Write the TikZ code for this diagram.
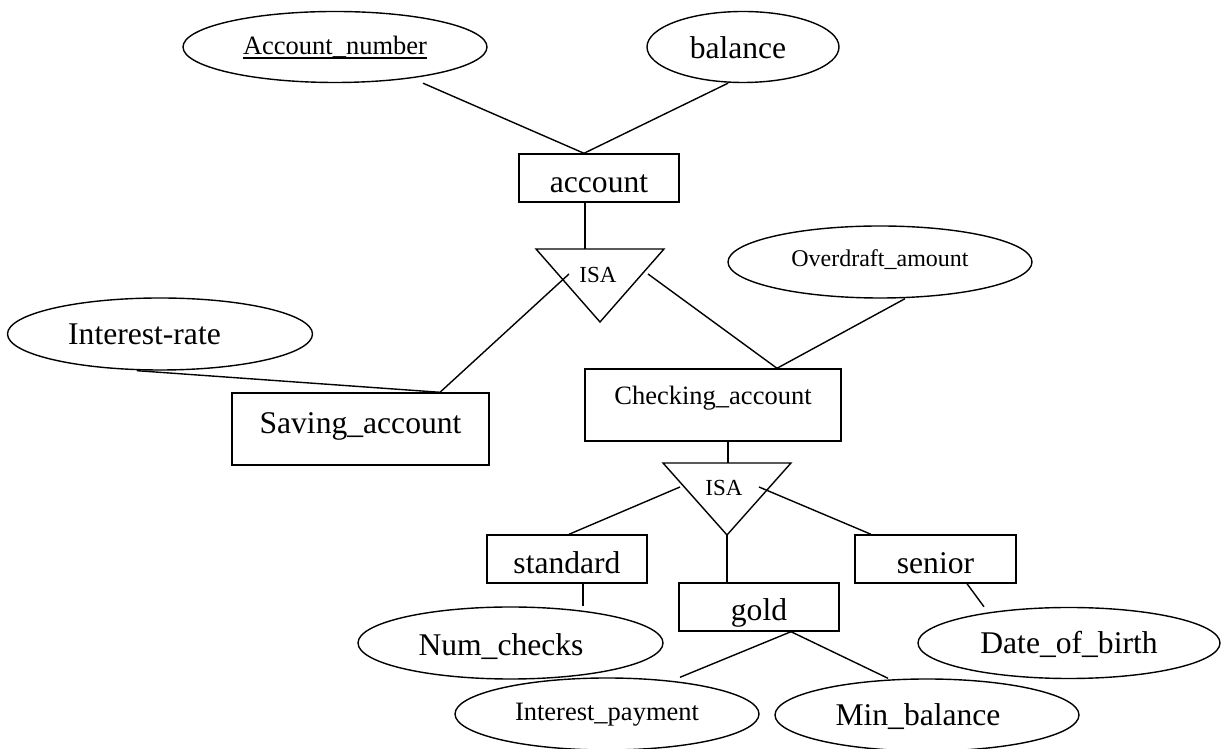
\documentclass[tikz,border=0pt]{standalone}
\usepackage{fontspec}
\setmainfont{Liberation Serif}
\usetikzlibrary{shapes.geometric}

% font sizes (1pt = 1 unit of the drawing)
\newcommand\bigf{\fontsize{31.6}{36}\selectfont}
\newcommand\midf{\fontsize{26.5}{30}\selectfont}
\newcommand\smf{\fontsize{24}{28}\selectfont}
\newcommand\isaf{\fontsize{23}{27}\selectfont}

% key attribute: text with a rule just below the baseline
\newsavebox\keybox
\newcommand\keyattr[1]{\sbox\keybox{#1}\rlap{\rule[-4pt]{\wd\keybox}{1.5pt}}\usebox\keybox}

\begin{document}
\begin{tikzpicture}[x=1pt,y=1pt,line width=1.4pt,
  ent/.style={draw,rectangle,inner sep=0pt},
  attr/.style={draw,ellipse,inner sep=0pt},
  box/.style 2 args={minimum width=#1pt,minimum height=#2pt},
  % baseline sits half of the given value below the shape centre
  bl/.style={text height=#1pt,text depth=0pt}]

  \fill[white] (0,0) rectangle (1221,749);
  \useasboundingbox (0,0) rectangle (1221,749);

  % attributes
  \node[attr,box={304}{71},bl=16,font=\midf] (an)  at (335,702) {\keyattr{Account\_number}};
  \node[attr,box={192}{71},bl=24,font=\bigf] (bal) at (743,702) {balance\kern10pt};
  \node[attr,box={305}{72},bl=22,font=\bigf] (ir)  at (160,415) {Interest-rate\kern31pt};
  \node[attr,box={304}{72},bl=10,font=\smf]  (od)  at (880,487) {Overdraft\_amount};
  \node[attr,box={305}{72},bl=26,font=\bigf] (nc)  at (510.5,106) {Num\_checks\kern19pt};
  \node[attr,box={302}{71},bl=22,font=\bigf] (dob) at (1069,106) {Date\_of\_birth};
  \node[attr,box={304}{72},bl=14,font=\midf] (ip)  at (607,35) {Interest\_payment};
  \node[attr,box={304}{72},bl=22,font=\bigf] (mb)  at (927,34) {Min\_balance\kern18pt};

  % entity sets
  \node[ent,box={160}{48},bl=30,font=\bigf] (acct) at (599,571) {account};
  \node[ent,box={257}{72},bl=10,font=\bigf] (sav)  at (360.5,320) {Saving\_account};
  \node[ent,box={256}{72},bl=0,font=\midf]  (chk)  at (713,344) {Checking\_account};
  \node[ent,box={160}{48},bl=30,font=\bigf] (std)  at (567,190) {standard};
  \node[ent,box={160}{48},bl=28,font=\bigf] (gold) at (759,142) {gold};
  \node[ent,box={161}{48},bl=30,font=\bigf] (sen)  at (935.5,190) {senior};

  % upper ISA triangle
  \coordinate (t1l) at (536,500);
  \coordinate (t1r) at (664,500);
  \coordinate (t1b) at (600,427);
  \draw (t1l) -- (t1r) -- (t1b) -- cycle;
  \node[font=\isaf,anchor=base,inner sep=0pt] (isa1) at (598,466) {ISA};
  \coordinate (t1top) at (585,500);
  \coordinate (t1sl) at (569,475);
  \coordinate (t1sr) at (648,475);

  % lower ISA triangle
  \coordinate (t2l) at (663,286);
  \coordinate (t2r) at (791,286);
  \coordinate (t2b) at (727,214);
  \draw (t2l) -- (t2r) -- (t2b) -- cycle;
  \node[font=\isaf,anchor=base,inner sep=0pt] (isa2) at (724,253) {ISA};
  \coordinate (t2top) at (728,286);
  \coordinate (t2sl) at (680,262);
  \coordinate (t2sr) at (759,262);

  % connectors
  \draw ([xshift=88pt]an.south) -- ([xshift=-15pt]acct.north);
  \draw ([xshift=-15pt]bal.south) -- ([xshift=-15pt]acct.north);
  \draw ([xshift=-14pt]acct.south) -- (t1top);
  \draw (t1sl) -- ([xshift=79.5pt]sav.north);
  \draw ([xshift=-23pt]ir.south) -- ([xshift=79.5pt]sav.north);
  \draw (t1sr) -- ([xshift=64pt]chk.north);
  \draw ([xshift=25pt]od.south) -- ([xshift=64pt]chk.north);
  \draw ([xshift=15pt]chk.south) -- (t2top);
  \draw (t2sl) -- ([xshift=2pt]std.north);
  \draw (t2sr) -- ([xshift=-64.5pt]sen.north);
  \draw (t2b) -- ([xshift=-32pt]gold.north);
  \draw ([xshift=16pt]std.south) -- ([xshift=72.5pt]nc.north);
  \draw ([xshift=31.5pt]sen.south) -- ([xshift=-85pt]dob.north);
  \draw ([xshift=32pt]gold.south) -- ([xshift=73pt]ip.north);
  \draw ([xshift=32pt]gold.south) -- ([xshift=-39pt]mb.north);
\end{tikzpicture}
\end{document}
